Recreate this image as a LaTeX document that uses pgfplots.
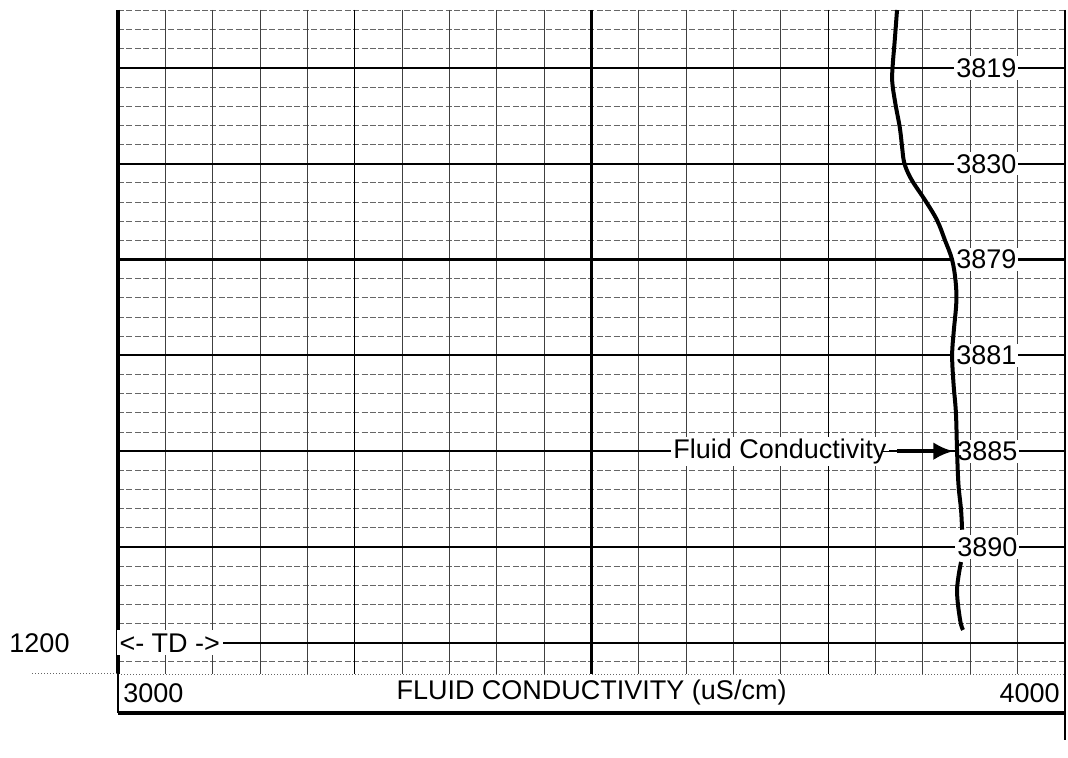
\documentclass[border=0pt]{standalone}
\usepackage{fontspec}
\setmainfont{Liberation Sans}
\usepackage{pgfplots}
\pgfplotsset{compat=1.18}
\usetikzlibrary{arrows.meta}
\begin{document}
\begin{tikzpicture}[font=\fontsize{13.5}{16}\selectfont]
\path[use as bounding box] (0,0) rectangle (534pt,379pt);
\begin{axis}[at={(59pt,42pt)}, anchor=south west, scale only axis,
  width=473.5pt, height=332pt,
  xmin=3000, xmax=4000, ymin=1133.95, ymax=1203.26, y dir=reverse,
  axis line style={draw=none}, ticks=none, clip=false]
% minor horizontal grid
\pgfplotsinvokeforeach{1134,1136,...,1202}{
  \draw[black!60, line width=0.45pt, dash pattern=on 3pt off 1.2pt] (axis cs:3000,#1) -- (axis cs:4000,#1);
}
\draw[black!60, line width=0.5pt, densely dotted] (axis cs:3000,1203.26) -- (axis cs:4000,1203.26);
% vertical grid
\pgfplotsinvokeforeach{3050,3100,...,3950}{
  \draw[black!75, line width=0.5pt] (axis cs:#1,1133.95) -- (axis cs:#1,1203.26);
}
\draw[black, line width=0.65pt] (axis cs:3250,1133.95) -- (axis cs:3250,1203.26);
\draw[black, line width=0.65pt] (axis cs:3750,1133.95) -- (axis cs:3750,1203.26);
\draw[black, line width=1.3pt] (axis cs:3500,1133.95) -- (axis cs:3500,1203.26);
% major horizontal grid
\pgfplotsinvokeforeach{1140,1150,...,1200}{
  \draw[black, line width=1.1pt] (axis cs:3000,#1) -- (axis cs:4000,#1);
}
% left border
\draw[black, line width=1.6pt] (axis cs:3000,1133.95) -- (axis cs:3000,1203.26);
% labels on the track
\node[fill=white, inner sep=1pt] at (axis cs:3917,1140) {3819};
\node[fill=white, inner sep=1pt] at (axis cs:3917,1150) {3830};
\node[fill=white, inner sep=1pt] at (axis cs:3917,1160) {3879};
\node[fill=white, inner sep=1pt] at (axis cs:3917,1170) {3881};
\node[fill=white, inner sep=1pt] at (axis cs:3918,1180) {3885};
\node[fill=white, inner sep=1pt] at (axis cs:3918,1190) {3890};
\node[fill=white, inner sep=1pt] at (axis cs:3699,1180) {Fluid Conductivity};
\draw[black, line width=0.6pt] (axis cs:3808,1180) -- (axis cs:3826,1180);
\draw[black, line width=2.2pt, -{Latex[length=10pt,width=9pt]}] (axis cs:3823,1180) -- (axis cs:3882,1180);
\node[fill=white, inner sep=1.5pt, anchor=west] at (axis cs:2998,1200) {<- TD ->};
% curve
\addplot[black, line width=2pt, smooth, tension=0.6] coordinates {
(3822.6,1133.95) (3820.3,1137.0) (3818.0,1139.8) (3817.6,1141.5)
(3821.0,1143.8) (3825.5,1146.2) (3828.0,1148.3) (3829.8,1149.7)
(3833.5,1150.8) (3840.0,1152.0) (3852.2,1153.8) (3864.9,1155.9)
(3873.3,1158.0) (3880.7,1160.0) (3884.5,1162.3) (3885.2,1164.5)
(3882.5,1167.5) (3880.8,1170.0) (3882.3,1173.0) (3884.8,1176.0)
(3886.0,1180.0) (3887.5,1183.5) (3890.2,1186.1) (3891.3,1188.2)
};
\addplot[black, line width=2pt, smooth, tension=0.6] coordinates {
(3890.2,1191.57) (3886.0,1194.49) (3889.2,1197.62) (3892.3,1198.66)
};
\end{axis}
% outside the track
\draw[black, line width=0.8pt] (532.5pt,374pt) -- (532.5pt,9pt);
\draw[black!60, line width=0.5pt, densely dotted] (16pt,42pt) -- (59pt,42pt);
\draw[black, line width=0.6pt] (59pt,42pt) -- (59pt,22.5pt);
\draw[black, line width=1.6pt] (59pt,22.5pt) -- (532.5pt,22.5pt);
\node[anchor=west, inner sep=0pt] at (61.5pt,32.5pt) {3000};
\node[inner sep=0pt] at (295.75pt,32.5pt) {FLUID CONDUCTIVITY (uS/cm)};
\node[anchor=east, inner sep=0pt] at (530pt,32.5pt) {4000};
\node[inner sep=0pt] at (19.75pt,57.5pt) {1200};
\end{tikzpicture}
\end{document}
